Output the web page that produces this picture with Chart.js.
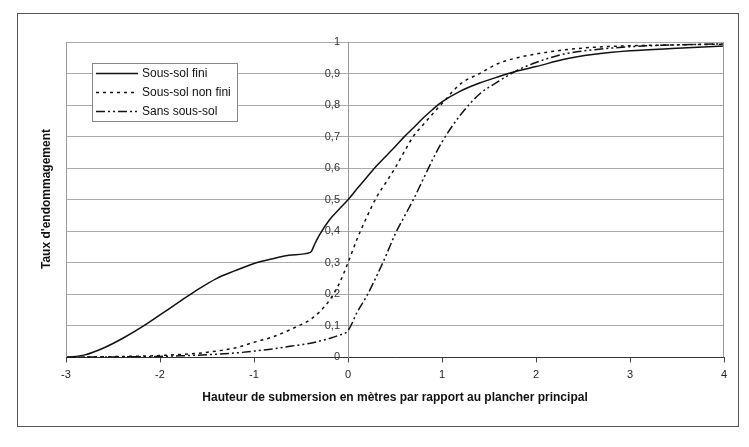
<!DOCTYPE html>
<html>
<head>
<meta charset="utf-8">
<script src="https://cdn.jsdelivr.net/npm/chart.js@4/dist/chart.umd.min.js"></script>
<style>
  html, body { margin: 0; background: #fff; }
  #wrap { width: 749px; height: 447px; }
</style>
</head>
<body>
<div id="wrap"><canvas id="courbes" width="749" height="447"></canvas></div>
<script>
// hauteur de submersion (m) par rapport au plancher principal
const hauteurs = [-3, -2.8, -2.6, -2.4, -2.2, -2, -1.8, -1.6, -1.4, -1.2, -1, -0.8, -0.6, -0.4, -0.35, -0.3, -0.2, -0.1,
  0, 0.1, 0.2, 0.3, 0.4, 0.5, 0.6, 0.7, 0.8, 0.9, 1, 1.2, 1.4, 1.6, 1.8, 2, 2.3, 2.6, 3, 3.5, 4];

// taux d'endommagement
const sousSolFini = [0, 0.008, 0.03, 0.06, 0.095, 0.135, 0.175, 0.215, 0.25, 0.275, 0.298, 0.313, 0.325, 0.333, 0.362, 0.39, 0.435, 0.468,
  0.5, 0.536, 0.571, 0.606, 0.637, 0.668, 0.7, 0.729, 0.759, 0.786, 0.81, 0.845, 0.87, 0.89, 0.908, 0.922, 0.945, 0.96, 0.972, 0.98, 0.987];
const sousSolNonFini = [0, 0.001, 0.002, 0.003, 0.004, 0.006, 0.009, 0.013, 0.02, 0.03, 0.048, 0.065, 0.09, 0.12, 0.132, 0.145, 0.18, 0.23,
  0.3, 0.378, 0.445, 0.506, 0.553, 0.6, 0.653, 0.703, 0.738, 0.772, 0.805, 0.868, 0.9, 0.932, 0.95, 0.962, 0.975, 0.983, 0.988, 0.991, 0.993];
const sansSousSol = [0, 0.001, 0.001, 0.002, 0.002, 0.003, 0.005, 0.007, 0.01, 0.014, 0.02, 0.027, 0.036, 0.045, 0.048, 0.052, 0.06, 0.07,
  0.085, 0.145, 0.195, 0.255, 0.32, 0.39, 0.447, 0.503, 0.565, 0.627, 0.683, 0.77, 0.835, 0.875, 0.91, 0.935, 0.962, 0.975, 0.985, 0.991, 0.994];

const ticksX = [-3, -2, -1, 0, 1, 2, 3, 4];
const ticksY = [0, 0.1, 0.2, 0.3, 0.4, 0.5, 0.6, 0.7, 0.8, 0.9, 1];

const police = 'Arial, "Liberation Sans", sans-serif';

function serie(valeurs) {
  return hauteurs.map((h, i) => ({ x: h, y: valeurs[i] }));
}

function virgule(v) {
  return String(Math.round(v * 10) / 10).replace('.', ',');
}

// cadre, étiquettes de l'axe vertical, titre vertical et légende dessinés à la main
const habillage = {
  id: 'habillage',
  beforeDraw(chart) {
    const ctx = chart.ctx;
    ctx.save();
    ctx.fillStyle = '#fff';
    ctx.fillRect(0, 0, chart.width, chart.height);
    ctx.restore();
  },
  beforeDatasetsDraw(chart) {
    // étiquettes 0 … 1 à gauche de l'axe placé en x = 0
    const { ctx, scales } = chart;
    const x0 = scales.x.getPixelForValue(0);
    ctx.save();
    ctx.fillStyle = '#333';
    ctx.font = '11px ' + police;
    ctx.textAlign = 'right';
    ctx.textBaseline = 'middle';
    scales.y.ticks.forEach(t => {
      ctx.fillText(virgule(t.value), x0 - 8, scales.y.getPixelForValue(t.value));
    });
    ctx.restore();
  },
  afterDraw(chart) {
    const { ctx, chartArea: a } = chart;
    ctx.save();
    // cadre extérieur
    ctx.strokeStyle = '#555';
    ctx.lineWidth = 1;
    ctx.strokeRect(17.5, 13.5, 721, 413);
    // bords de la zone de tracé
    ctx.strokeStyle = '#999';
    ctx.beginPath();
    ctx.moveTo(Math.round(a.left) + 0.5, a.bottom);
    ctx.lineTo(Math.round(a.left) + 0.5, a.top);
    ctx.moveTo(Math.round(a.right) - 0.5, a.bottom);
    ctx.lineTo(Math.round(a.right) - 0.5, a.top);
    ctx.stroke();

    // titre de l'axe vertical
    ctx.fillStyle = '#111';
    ctx.font = 'bold 12px ' + police;
    ctx.textAlign = 'center';
    ctx.textBaseline = 'middle';
    ctx.translate(47, 199);
    ctx.rotate(-Math.PI / 2);
    ctx.fillText("Taux d'endommagement", 0, 0);
    ctx.setTransform(1, 0, 0, 1, 0, 0);

    // légende
    ctx.fillStyle = '#fff';
    ctx.fillRect(92, 63, 145, 58);
    ctx.strokeStyle = '#888';
    ctx.strokeRect(92.5, 63.5, 145, 58);
    ctx.font = '12px ' + police;
    ctx.textAlign = 'left';
    const lignes = [73, 92, 111];
    chart.data.datasets.forEach((ds, i) => {
      const y = lignes[i] + 0.5;
      ctx.strokeStyle = ds.borderColor;
      ctx.lineWidth = ds.borderWidth;
      ctx.setLineDash(ds.borderDash || []);
      ctx.beginPath();
      ctx.moveTo(96, y);
      ctx.lineTo(138, y);
      ctx.stroke();
      ctx.setLineDash([]);
      ctx.fillStyle = '#111';
      ctx.fillText(ds.label, 142, lignes[i] + 1);
    });
    ctx.restore();
  }
};

new Chart(document.getElementById('courbes'), {
  type: 'line',
  data: {
    datasets: [
      { label: 'Sous-sol fini', data: serie(sousSolFini), borderColor: '#111', borderWidth: 1.5, borderDash: [] },
      { label: 'Sous-sol non fini', data: serie(sousSolNonFini), borderColor: '#111', borderWidth: 1.5, borderDash: [3, 4] },
      { label: 'Sans sous-sol', data: serie(sansSousSol), borderColor: '#111', borderWidth: 1.5, borderDash: [9, 3, 2, 3, 2, 3] }
    ]
  },
  options: {
    responsive: false,
    animation: false,
    layout: { padding: { left: 66, right: 25, top: 42, bottom: 36 } },
    elements: {
      point: { radius: 0 },
      line: { cubicInterpolationMode: 'monotone', fill: false }
    },
    plugins: {
      legend: { display: false },
      tooltip: { enabled: false }
    },
    scales: {
      x: {
        type: 'linear',
        min: -3,
        max: 4,
        afterBuildTicks: (s) => { s.ticks = ticksX.map(v => ({ value: v })); },
        grid: { drawOnChartArea: false, tickLength: 5, color: '#444' },
        border: { color: '#333', width: 1 },
        ticks: { padding: 6, color: '#222', font: { family: police, size: 11 } },
        title: {
          display: true,
          text: 'Hauteur de submersion en mètres par rapport au plancher principal',
          color: '#111',
          font: { family: police, size: 12, weight: 'bold' },
          padding: { top: 3, bottom: 6 }
        }
      },
      y: {
        type: 'linear',
        min: 0,
        max: 1,
        position: { x: 0 },
        afterBuildTicks: (s) => { s.ticks = ticksY.map(v => ({ value: v })); },
        grid: { color: '#aaa', tickLength: 8 },
        border: { color: '#999' },
        ticks: { display: false }
      }
    }
  },
  plugins: [habillage]
});
</script>
</body>
</html>
